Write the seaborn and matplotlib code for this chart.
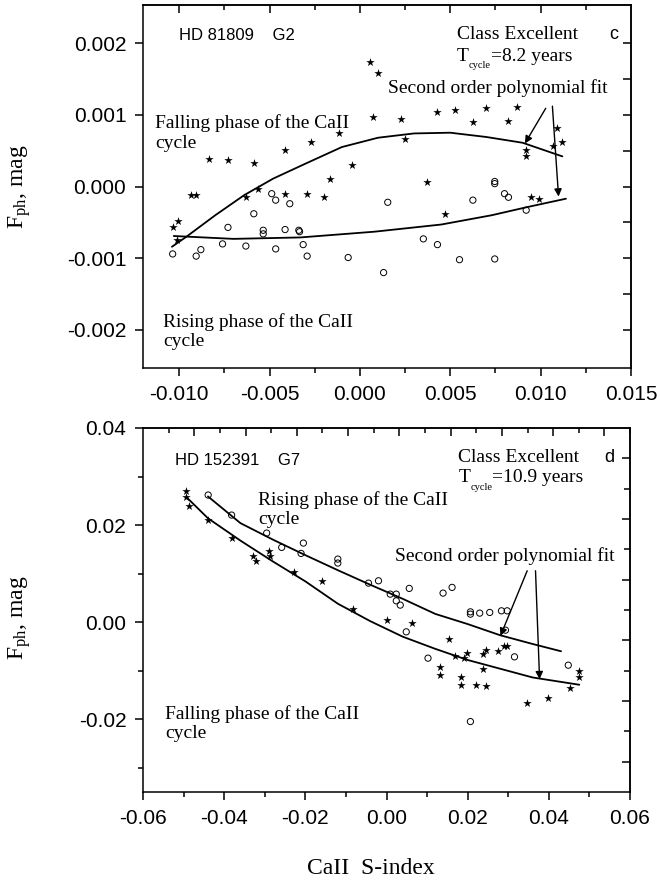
import numpy as np
import pandas as pd
import seaborn as sns
import matplotlib.pyplot as plt
from matplotlib.ticker import FixedLocator, NullFormatter

sns.set_style('ticks', {'axes.edgecolor': 'black', 'xtick.color': 'black', 'ytick.color': 'black',
                        'text.color': 'black', 'axes.labelcolor': 'black'})
plt.rcParams['font.family'] = ['Liberation Sans', 'DejaVu Sans']
plt.rcParams['mathtext.fontset'] = 'custom'
plt.rcParams['mathtext.rm'] = 'Liberation Serif'
plt.rcParams['mathtext.it'] = 'Liberation Serif:italic'
plt.rcParams['axes.unicode_minus'] = False
plt.rcParams['axes.linewidth'] = 1.1

# ---- panel c : HD 81809 ----
c_star_x = [0.00055, 0.00102, 0.00075, 0.0023, 0.00425, 0.00527, 0.00625, 0.0070, 0.0082, 0.0087,
            0.01093, 0.0107, 0.01117, 0.00917, 0.0092, 0.00248, -0.00117, -0.00271, -0.00414, -0.00837,
            -0.00732, -0.00587, -0.00043, -0.00165, 0.00373, -0.00934, -0.00906, -0.00633, -0.00565, -0.00414,
            -0.00293, -0.00197, 0.00944, 0.00991, -0.01036, -0.01005, -0.0101, 0.00471]
c_star_y = [0.00174, 0.00158, 0.00097, 0.00094, 0.00104, 0.00106, 0.00090, 0.00109, 0.00091, 0.00111,
            0.00082, 0.00056, 0.00062, 0.00051, 0.00043, 0.00066, 0.00074, 0.00062, 0.00051, 0.00038,
            0.00037, 0.00033, 0.00030, 0.00011, 0.00006, -0.00012, -0.00012, -0.00015, -0.00004, -0.00010,
            -0.00010, -0.00015, -0.00015, -0.00018, -0.00056, -0.00048, -0.00075, -0.00038]
c_circ_x = [-0.01036, -0.00906, -0.0088, -0.0076, -0.0073, -0.00631, -0.00587, -0.00535, -0.00535, -0.00488,
            -0.00466, -0.00388, -0.00466, -0.00414, -0.00338, -0.00334, -0.00314, -0.00292, -0.00065, 0.00154,
            0.00131, 0.00351, 0.00429, 0.00551, 0.00625, 0.00746, 0.00746, 0.00746, 0.0080, 0.00822, 0.0092]
c_circ_y = [-0.00094, -0.00097, -0.00088, -0.0008, -0.00057, -0.00083, -0.00038, -0.00061, -0.00066, -0.0001,
            -0.00019, -0.00024, -0.00087, -0.0006, -0.00061, -0.00063, -0.00081, -0.00097, -0.00099, -0.00022,
            -0.0012, -0.00073, -0.00081, -0.00102, -0.00019, -0.00101, 0.00007, 0.00004, -0.0001, -0.00015, -0.00033]
c_fit_fall_x = [-0.0104, -0.0096, -0.008, -0.0064, -0.0048, -0.003, -0.001, 0.001, 0.003, 0.005, 0.007, 0.009, 0.0112]
c_fit_fall_y = [-0.00084, -0.0007, -0.0004, -0.00012, 0.00011, 0.00032, 0.00055, 0.00068, 0.00074, 0.00075,
                0.00069, 0.00061, 0.00042]
c_fit_rise_x = [-0.0103, -0.007, -0.0033, 0.0008, 0.0045, 0.0073, 0.0092, 0.0114]
c_fit_rise_y = [-0.00069, -0.00073, -0.00071, -0.00063, -0.00053, -0.0004, -0.00029, -0.00017]
c_yticks = [-0.002, -0.001, 0.0, 0.001, 0.002]
c_ylabels = ['-0.002', '-0.001', '0.000', '0.001', '0.002']
c_xticks = [-0.010, -0.005, 0.0, 0.005, 0.010, 0.015]
c_xlabels = ['-0.010', '-0.005', '0.000', '0.005', '0.010', '0.015']

# ---- panel d : HD 152391 ----
d_star_x = [-0.04946, -0.04929, -0.04864, -0.04395, -0.03802, -0.03284, -0.03225, -0.02889, -0.02872, -0.02271,
            -0.0158, -0.0083, 0.0001, 0.00627, 0.01531, 0.01696, 0.01985, 0.01901, 0.01309, 0.01309,
            0.01844, 0.01844, 0.02215, 0.02462, 0.0238, 0.02462, 0.0238, 0.0275, 0.02889, 0.02973,
            0.03449, 0.03975, 0.04518, 0.04741, 0.04741]
d_star_y = [0.02708, 0.02571, 0.02386, 0.0211, 0.01732, 0.01355, 0.01264, 0.0147, 0.01355, 0.01037,
            0.00852, 0.00268, 0.00048, -0.00021, -0.00351, -0.00694, -0.00646, -0.00742, -0.00914, -0.01093,
            -0.01127, -0.01293, -0.01299, -0.01313, -0.0066, -0.00577, -0.00969, -0.00604, -0.00489, -0.00489,
            -0.01656, -0.01553, -0.01347, -0.01004, -0.0114]
d_circ_x = [-0.04395, -0.03817, -0.02953, -0.02583, -0.02049, -0.02106, -0.012, -0.012, -0.00444, -0.00198,
            0.00091, 0.0024, 0.0024, 0.00338, 0.0056, 0.00486, 0.01022, 0.01393, 0.01615, 0.02067,
            0.02067, 0.02296, 0.02543, 0.02832, 0.02973, 0.02931, 0.03153, 0.02067, 0.04478]
d_circ_y = [0.02619, 0.02206, 0.01835, 0.0154, 0.01629, 0.01416, 0.01299, 0.01217, 0.00804, 0.00852,
            0.00577, 0.00577, 0.00439, 0.00351, 0.00695, -0.002, -0.00742, 0.00598, 0.00716, 0.00212,
            0.00165, 0.00186, 0.002, 0.00233, 0.00233, -0.00165, -0.00715, -0.02048, -0.00887]
d_fit_rise_x = [-0.044, -0.036, -0.028, -0.020, -0.012, -0.004, 0.004, 0.012, 0.020, 0.028, 0.036, 0.043]
d_fit_rise_y = [0.0259, 0.0204, 0.0170, 0.0138, 0.0107, 0.0077, 0.0048, 0.0017, -0.0004, -0.0027, -0.0045, -0.0060]
d_fit_fall_x = [-0.049, -0.044, -0.036, -0.028, -0.020, -0.012, -0.004, 0.004, 0.012, 0.020, 0.028, 0.036, 0.0475]
d_fit_fall_y = [0.0255, 0.0214, 0.0168, 0.0125, 0.0084, 0.0038, 0.0002, -0.0030, -0.0055, -0.0078, -0.0096,
                -0.0114, -0.0129]
d_yticks = [-0.02, 0.0, 0.02, 0.04]
d_ylabels = ['-0.02', '0.00', '0.02', '0.04']
d_xticks = [-0.06, -0.04, -0.02, 0.0, 0.02, 0.04, 0.06]
d_xlabels = ['-0.06', '-0.04', '-0.02', '0.00', '0.02', '0.04', '0.06']

serif = 'Liberation Serif'

fig = plt.figure(figsize=(6.6, 8.81), dpi=100)
ax1 = fig.add_axes([0.2167, 0.5823, 0.7394, 0.4120])
ax2 = fig.add_axes([0.2167, 0.1010, 0.7379, 0.4132])


def draw_points(ax, sx, sy, cx, cy, f1x, f1y, f2x, f2y):
    sns.scatterplot(x=sx, y=sy, ax=ax, marker='*', s=40, color='black', linewidth=0)
    sns.scatterplot(x=cx, y=cy, ax=ax, marker='o', s=20, facecolors='none', edgecolor='black', linewidth=0.7)
    sns.lineplot(x=f1x, y=f1y, ax=ax, sort=False, estimator=None, color='black', lw=1.3)
    sns.lineplot(x=f2x, y=f2y, ax=ax, sort=False, estimator=None, color='black', lw=1.3)


def style_axes(ax, xt, xl, yt, yl, xminor, yminor, top_major, top_minor, right_major, right_minor):
    ax.set_xticks(xt)
    ax.set_xticklabels(xl, fontsize=15)
    ax.set_yticks(yt)
    ax.set_yticklabels(yl, fontsize=15)
    ax.xaxis.set_minor_locator(FixedLocator(xminor))
    ax.yaxis.set_minor_locator(FixedLocator(yminor))
    ax.tick_params(which='major', direction='out', length=6, width=1.1, top=False, right=False, pad=6)
    ax.tick_params(which='minor', direction='out', length=3.5, width=1.1, top=False, right=False)
    top = ax.secondary_xaxis('top')
    top.xaxis.set_major_locator(FixedLocator(top_major))
    top.xaxis.set_minor_locator(FixedLocator(top_minor))
    top.xaxis.set_major_formatter(NullFormatter())
    top.tick_params(which='major', direction='in', length=6, width=1.1)
    top.tick_params(which='minor', direction='in', length=3.5, width=1.1)
    right = ax.secondary_yaxis('right')
    right.yaxis.set_major_locator(FixedLocator(right_major))
    right.yaxis.set_minor_locator(FixedLocator(right_minor))
    right.yaxis.set_major_formatter(NullFormatter())
    right.tick_params(which='major', direction='in', length=6, width=1.1)
    right.tick_params(which='minor', direction='in', length=4, width=1.1)


def arrow(ax, start, end):
    ax.annotate('', xy=end, xytext=start,
                arrowprops=dict(arrowstyle='-|>', color='black', lw=1.0, mutation_scale=11,
                                shrinkA=0, shrinkB=0))


def tcycle(ax, x, y, rest):
    # T with a small "cycle" subscript, then the rest on the same baseline
    t1 = ax.text(x, y, 'T', family=serif, fontsize=14, va='baseline')
    t2 = ax.annotate('cycle', xy=(1.0, 0.22), xycoords=t1, family=serif, fontsize=7.5,
                     va='top', ha='left')
    ax.annotate(rest, xy=(1.0, 0.0), xycoords=(t2, t1), family=serif, fontsize=14,
                va='bottom', ha='left')


# panel c
draw_points(ax1, c_star_x, c_star_y, c_circ_x, c_circ_y, c_fit_fall_x, c_fit_fall_y, c_fit_rise_x, c_fit_rise_y)
ax1.set_xlim(-0.012, 0.015)
ax1.set_ylim(-0.00253, 0.00253)
style_axes(ax1, c_xticks, c_xlabels, c_yticks, c_ylabels,
           [-0.0075, -0.0025, 0.0025, 0.0075, 0.0125], [],
           [-0.010, -0.005, 0.0, 0.005, 0.010], [-0.0075, -0.0025, 0.0025, 0.0075, 0.0125],
           list(np.arange(-0.002, 0.00201, 0.0005)), [])
ax1.set_ylabel('F$_{\\rm ph}$, mag', family=serif, fontsize=17)
ax1.yaxis.set_label_coords(-0.225, 0.5)
ax1.text(-0.0100, 0.00204, 'HD 81809    G2', fontsize=12, va='baseline')
ax1.text(0.00536, 0.00205, 'Class Excellent', family=serif, fontsize=14, va='baseline')
ax1.text(0.01380, 0.00205, 'c', fontsize=13, va='baseline')
tcycle(ax1, 0.00536, 0.00175, '=8.2 years')
ax1.text(0.00158, 0.0013, 'Second order polynomial fit', family=serif, fontsize=14, va='baseline')
ax1.text(-0.01133, 0.00082, 'Falling phase of the CaII', family=serif, fontsize=14, va='baseline')
ax1.text(-0.01133, 0.00053, 'cycle', family=serif, fontsize=14, va='baseline')
ax1.text(-0.0109, -0.00196, 'Rising phase of the CaII', family=serif, fontsize=14, va='baseline')
ax1.text(-0.0109, -0.00222, 'cycle', family=serif, fontsize=14, va='baseline')
arrow(ax1, (0.01028, 0.00109), (0.00913, 0.0006))
arrow(ax1, (0.01065, 0.00112), (0.01099, -0.00014))

# panel d
draw_points(ax2, d_star_x, d_star_y, d_circ_x, d_circ_y, d_fit_rise_x, d_fit_rise_y, d_fit_fall_x, d_fit_fall_y)
ax2.set_xlim(-0.06, 0.06)
ax2.set_ylim(-0.035, 0.04)
top_d = list(np.linspace(-0.06, 0.06, 20))
right_d = list(np.linspace(-0.035, 0.04, 13))
style_axes(ax2, d_xticks, d_xlabels, d_yticks, d_ylabels,
           [-0.05, -0.03, -0.01, 0.01, 0.03, 0.05], [-0.03, -0.01, 0.01, 0.03],
           top_d[2:-1:2], top_d[1::2], right_d[1:-1:2], right_d[2:-1:2])
ax2.set_ylabel('F$_{\\rm ph}$, mag', family=serif, fontsize=17)
ax2.yaxis.set_label_coords(-0.225, 0.48)
ax2.set_xlabel('CaII  S-index', family=serif, fontsize=17)
ax2.xaxis.set_label_coords(0.467, -0.18)
ax2.text(-0.05217, 0.03244, 'HD 152391    G7', fontsize=12, va='baseline')
ax2.text(0.0177, 0.03293, 'Class Excellent', family=serif, fontsize=14, va='baseline')
ax2.text(0.05375, 0.0329, 'd', fontsize=13, va='baseline')
tcycle(ax2, 0.0177, 0.0288, '=10.9 years')
ax2.text(-0.03168, 0.02413, 'Rising phase of the CaII', family=serif, fontsize=14, va='baseline')
ax2.text(-0.03168, 0.0202, 'cycle', family=serif, fontsize=14, va='baseline')
ax2.text(0.00215, 0.01264, 'Second order polynomial fit', family=serif, fontsize=14, va='baseline')
ax2.text(-0.05464, -0.01986, 'Falling phase of the CaII', family=serif, fontsize=14, va='baseline')
ax2.text(-0.05464, -0.02378, 'cycle', family=serif, fontsize=14, va='baseline')
arrow(ax2, (0.03466, 0.01058), (0.02807, -0.00282))
arrow(ax2, (0.03671, 0.01058), (0.03771, -0.01175))

fig.savefig('out.png', dpi=100)
